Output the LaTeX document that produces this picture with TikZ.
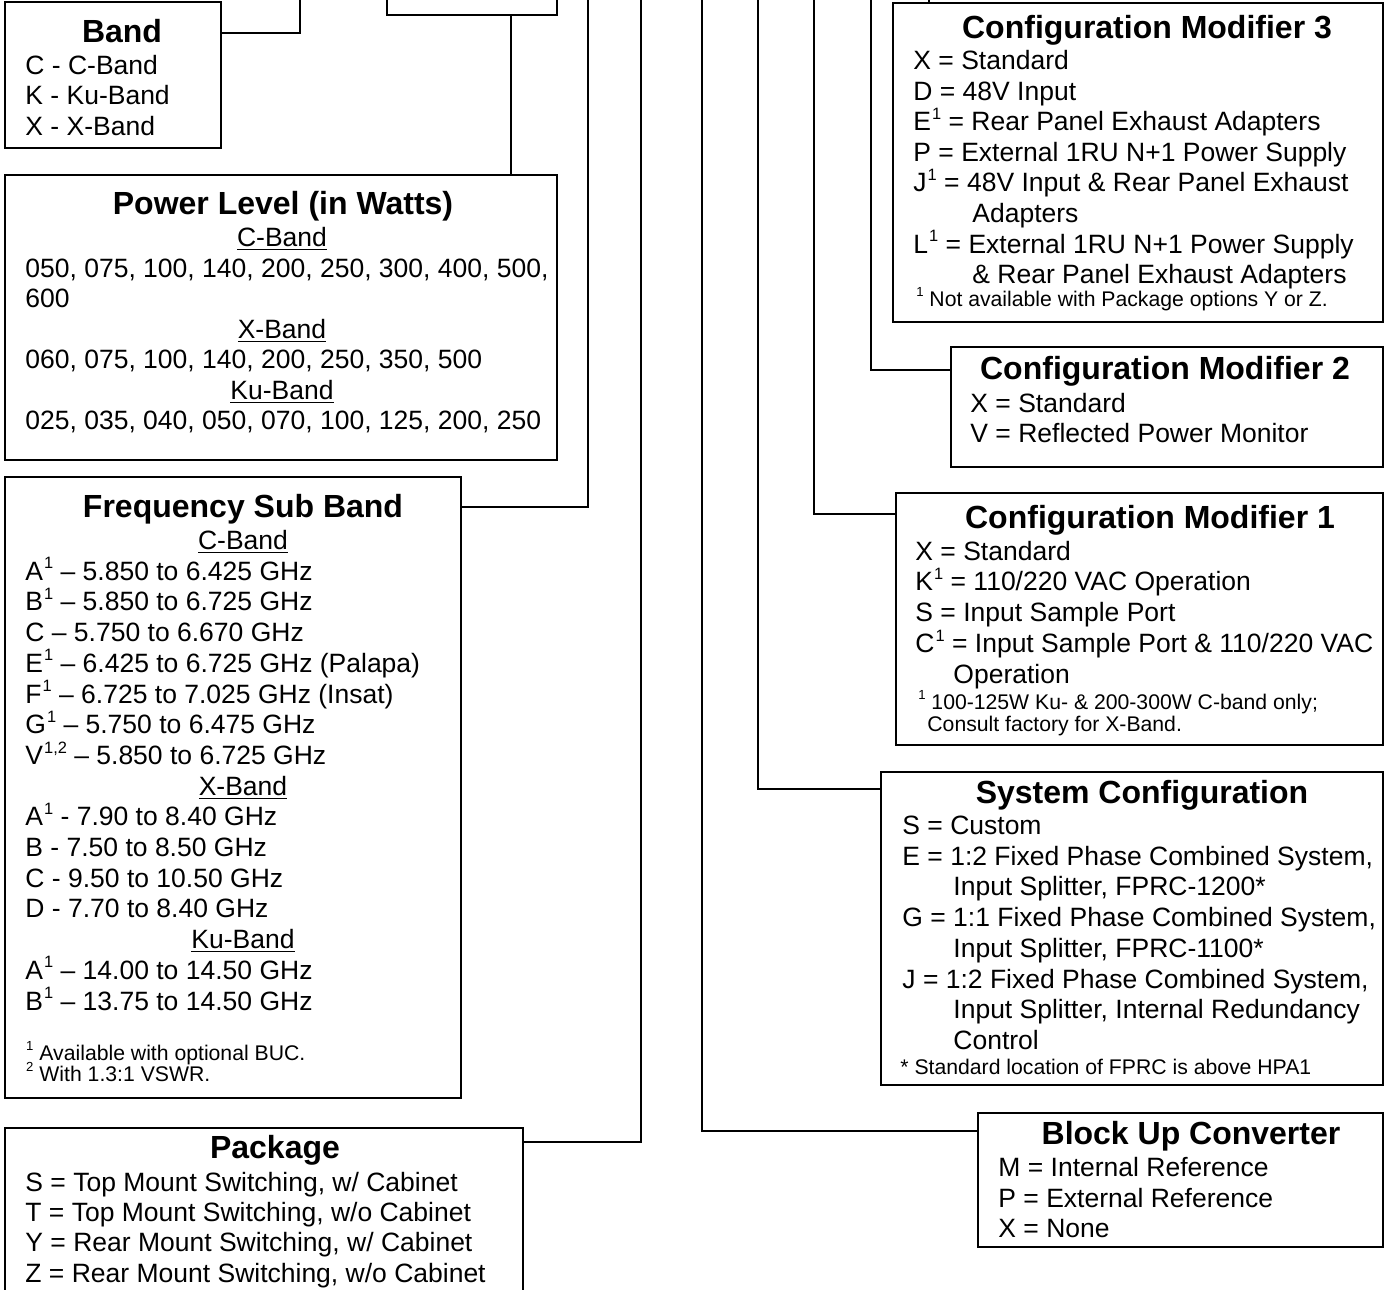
\documentclass[tikz,border=0pt]{standalone}
\usepackage{fontspec}
\setmainfont{Liberation Sans}
\usepackage{graphicx}
\usepackage{tikz}

\newcommand\ttlfont{\fontsize{16}{18}\selectfont\bfseries}
\newcommand\itmfont{\fontsize{13.25}{15}\selectfont}
\newcommand\ftnfont{\fontsize{10.6}{12}\selectfont}
\newcommand\sups[1]{\kern0.04em\raisebox{0.43em}{\scalebox{0.62}{#1}}}

\begin{document}
\begin{tikzpicture}[x=0.5pt, y=-0.5pt,
    wire/.style={line width=0.75pt},
    optbox/.style 2 args={draw, line width=0.75pt, anchor=north west, inner sep=0pt, outer sep=0pt,
        minimum width=#1*0.5pt, minimum height=#2*0.5pt},
    ttl/.style={font=\ttlfont, anchor=base, inner sep=0pt},
    subhd/.style={font=\itmfont, anchor=base, inner sep=0pt},
    itm/.style={font=\itmfont, anchor=base west, inner sep=0pt},
    ftn/.style={font=\ftnfont, anchor=base west, inner sep=0pt}]
    \path[use as bounding box, clip] (0,0) rectangle (1385,1289);

    % left column
    \node[optbox={216}{146}] (band) at (5,2) {};
    \node[ttl] (bandT) at (122,42.5) {Band};
    \foreach \t [count=\i from 0] in {C - C-Band, K - Ku-Band, X - X-Band}
        \node[itm] (band\i) at (25,74.5+30.5*\i) {\t};

    \node[optbox={170}{55}] (top) at (387,-40) {};

    \node[optbox={552}{285}] (power) at (5,175) {};
    \node[ttl] (powerT) at (283,214.5) {Power Level (in Watts)};
    \node[subhd] (powerC) at (282,246.5) {\underline{C-Band}};
    \node[itm] (power0) at (25,277) {050, 075, 100, 140, 200, 250, 300, 400, 500,};
    \node[itm] (power1) at (25,307.5) {600};
    \node[subhd] (powerX) at (282,338) {\underline{X-Band}};
    \node[itm] (power2) at (25,368.5) {060, 075, 100, 140, 200, 250, 350, 500};
    \node[subhd] (powerK) at (282,399) {\underline{Ku-Band}};
    \node[itm] (power3) at (25,429.5) {025, 035, 040, 050, 070, 100, 125, 200, 250};

    \node[optbox={456}{621}] (freq) at (5,477) {};
    \node[ttl] (freqT) at (243,517.5) {Frequency Sub Band};
    \node[subhd] (freqC) at (243,549.5) {\underline{C-Band}};
    \foreach \t [count=\i from 1] in {A\sups{1} – 5.850 to 6.425 GHz, B\sups{1} – 5.850 to 6.725 GHz,
            C – 5.750 to 6.670 GHz, E\sups{1} – 6.425 to 6.725 GHz (Palapa),
            F\sups{1} – 6.725 to 7.025 GHz (Insat), G\sups{1} – 5.750 to 6.475 GHz,
            V\sups{1,2} – 5.850 to 6.725 GHz}
        \node[itm] (fc\i) at (25,549.5+30.7*\i) {\t};
    \node[subhd] (freqX) at (243,549.5+30.7*8) {\underline{X-Band}};
    \foreach \t [count=\i from 9] in {A\sups{1} - 7.90 to 8.40 GHz, B - 7.50 to 8.50 GHz,
            C - 9.50 to 10.50 GHz, D - 7.70 to 8.40 GHz}
        \node[itm] (fx\i) at (25,549.5+30.7*\i) {\t};
    \node[subhd] (freqK) at (243,549.5+30.7*13) {\underline{Ku-Band}};
    \foreach \t [count=\i from 14] in {A\sups{1} – 14.00 to 14.50 GHz, B\sups{1} – 13.75 to 14.50 GHz}
        \node[itm] (fk\i) at (25,549.5+30.7*\i) {\t};
    \node[ftn] (freqN1) at (25,1060) {\sups{1} Available with optional BUC.};
    \node[ftn] (freqN2) at (25,1081) {\sups{2} With 1.3:1 VSWR.};

    \node[optbox={518}{220}] (pack) at (5,1128) {};
    \node[ttl] (packT) at (275,1158.5) {Package};
    \foreach \t [count=\i from 0] in {{S = Top Mount Switching, w/ Cabinet}, {T = Top Mount Switching, w/o Cabinet},
            {Y = Rear Mount Switching, w/ Cabinet}, {Z = Rear Mount Switching, w/o Cabinet}}
        \node[itm] (pack\i) at (25,1191.5+30.2*\i) {\t};

    % right column
    \node[optbox={490}{319}] (mod3) at (893,3) {};
    \node[ttl] (mod3T) at (1147,38.5) {Configuration Modifier 3};
    \foreach \t [count=\i from 0] in {X = Standard, D = 48V Input, E\sups{1} = Rear Panel Exhaust Adapters,
            P = External 1RU N+1 Power Supply, J\sups{1} = 48V Input \& Rear Panel Exhaust,
            \hspace*{29.5pt}Adapters, L\sups{1} = External 1RU N+1 Power Supply,
            \hspace*{29.5pt}\& Rear Panel Exhaust Adapters}
        \node[itm] (mod3\i) at (913,69.5+30.6*\i) {\t};
    \node[ftn] (mod3N) at (915,306) {\sups{1} Not available with Package options Y or Z.};

    \node[optbox={432}{120}] (mod2) at (951,347) {};
    \node[ttl] (mod2T) at (1165,379.5) {Configuration Modifier 2};
    \node[itm] (mod20) at (970,412.5) {X = Standard};
    \node[itm] (mod21) at (970,442.5) {V = Reflected Power Monitor};

    \node[optbox={487}{252}] (mod1) at (896,493) {};
    \node[ttl] (mod1T) at (1150,528) {Configuration Modifier 1};
    \foreach \t [count=\i from 0] in {X = Standard, K\sups{1} = 110/220 VAC Operation, S = Input Sample Port,
            C\sups{1} = Input Sample Port \& 110/220 VAC, \hspace*{19pt}Operation}
        \node[itm] (mod1\i) at (915,560+30.8*\i) {\t};
    \node[ftn] (mod1N1) at (917,709) {\sups{1} 100-125W Ku- \& 200-300W C-band only;};
    \node[ftn] (mod1N2) at (927,731) {Consult factory for X-Band.};

    \node[optbox={502}{313}] (sys) at (881,772) {};
    \node[ttl] (sysT) at (1142,803.5) {System Configuration};
    \foreach \t [count=\i from 0] in {S = Custom, {E = 1:2 Fixed Phase Combined System,},
            {\hspace*{25.5pt}Input Splitter, FPRC-1200*}, {G = 1:1 Fixed Phase Combined System,},
            {\hspace*{25.5pt}Input Splitter, FPRC-1100*}, {J = 1:2 Fixed Phase Combined System,},
            {\hspace*{25.5pt}Input Splitter, Internal Redundancy}, \hspace*{25.5pt}Control}
        \node[itm] (sys\i) at (902,834.5+30.7*\i) {\t};
    \node[ftn] (sysN) at (900,1074) {* Standard location of FPRC is above HPA1};

    \node[optbox={405}{134}] (buc) at (978,1113) {};
    \node[ttl] (bucT) at (1191,1144.5) {Block Up Converter};
    \foreach \t [count=\i from 0] in {M = Internal Reference, P = External Reference, X = None}
        \node[itm] (buc\i) at (998,1176.5+30.5*\i) {\t};

    % connectors up to the top edge
    \coordinate (t1) at (300,0); \coordinate (t2) at (511,0); \coordinate (t3) at (588,0);
    \coordinate (t4) at (641,0); \coordinate (t5) at (702,0); \coordinate (t6) at (758,0);
    \coordinate (t7) at (814,0); \coordinate (t8) at (871,0); \coordinate (t9) at (929,0);
    \draw[wire] ([yshift=-15.5pt]band.north east) -| (t1);
    \draw[wire] (t2 |- top.south) -- (t2 |- power.north);
    \draw[wire] ([yshift=-15pt]freq.north east) -| (t3);
    \draw[wire] ([yshift=-7pt]pack.north east) -| (t4);
    \draw[wire] (t5) |- ([yshift=-9pt]buc.north west);
    \draw[wire] (t6) |- ([yshift=-8.5pt]sys.north west);
    \draw[wire] (t7) |- ([yshift=-10.5pt]mod1.north west);
    \draw[wire] (t8) |- ([yshift=-11.5pt]mod2.north west);
    \draw[wire] (t9) -- (t9 |- mod3.north);
\end{tikzpicture}
\end{document}
